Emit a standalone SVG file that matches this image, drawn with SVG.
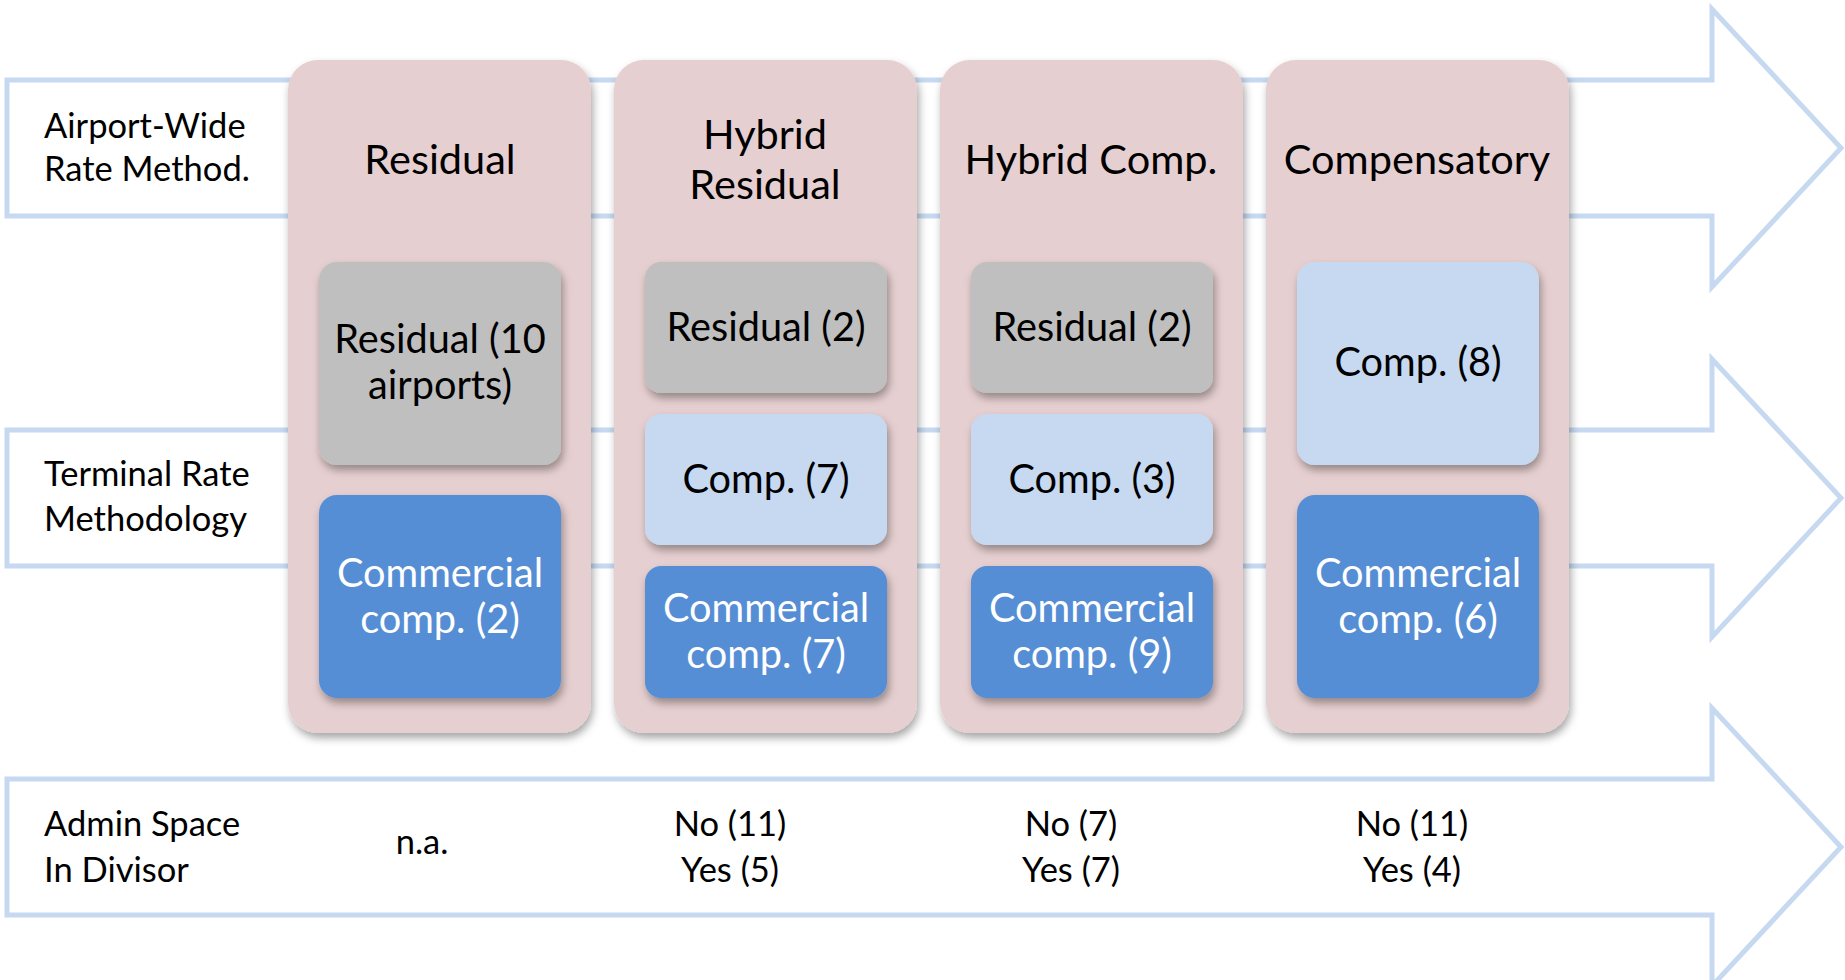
<svg xmlns="http://www.w3.org/2000/svg" width="1845" height="980" viewBox="0 0 1845 980">
<defs>
<filter id="sh" x="-10%" y="-10%" width="125%" height="125%">
<feDropShadow dx="2" dy="5" stdDeviation="4" flood-color="#000" flood-opacity="0.35"/>
</filter>
<style>
.arrow{fill:#fff;stroke:#C6D9F1;stroke-width:5}
.col{fill:#E6CFD0;filter:url(#sh)}
.gray{fill:#BFBFBF;filter:url(#sh)}
.lb{fill:#C6D9F1;filter:url(#sh)}
.db{fill:#558ED5;filter:url(#sh)}
text{font-family:Lato,"Open Sans","Liberation Sans",sans-serif;fill:#000}
.lab{font-size:34.5px}
.hd{font-size:41.5px;text-anchor:middle}
.bx{font-size:39.7px;text-anchor:middle}
.wt{fill:#fff}
.ad{font-size:34.5px;text-anchor:middle}
</style>
</defs>
<g id="connectors">
<path class="arrow" d="M7,80 H1712 V9 L1841,148 L1712,287 V216 H7 Z"/>
<path class="arrow" d="M7,430 H1712 V359 L1841,498 L1712,637 V566 H7 Z"/>
<path class="arrow" d="M7,779 H1712 V708 L1841,847 L1712,986 V915 H7 Z"/>
</g>
<g id="row-labels">
<text class="lab" x="44" y="138">Airport-Wide</text>
<text class="lab" x="44" y="181">Rate Method.</text>
<text class="lab" x="44" y="486">Terminal Rate</text>
<text class="lab" x="44" y="531">Methodology</text>
<text class="lab" x="44" y="836">Admin Space</text>
<text class="lab" x="44" y="882">In Divisor</text>
</g>
<g id="col-residual">
<rect class="col" x="288" y="60" width="303" height="673" rx="30"/>
<text class="hd" x="440" y="174">Residual</text>
<rect class="gray" x="319" y="262" width="242" height="203" rx="18"/>
<text class="bx" x="440" y="353">Residual (10</text>
<text class="bx" x="440" y="399">airports)</text>
<rect class="db" x="319" y="495" width="242" height="203" rx="18"/>
<text class="bx wt" x="440" y="587">Commercial</text>
<text class="bx wt" x="440" y="633">comp. (2)</text>
</g>
<g id="col-hybrid-residual">
<rect class="col" x="614" y="60" width="303" height="673" rx="30"/>
<text class="hd" x="765" y="149">Hybrid</text>
<text class="hd" x="765" y="199">Residual</text>
<rect class="gray" x="645" y="262" width="242" height="131" rx="16"/>
<text class="bx" x="766" y="341">Residual (2)</text>
<rect class="lb" x="645" y="414" width="242" height="131" rx="16"/>
<text class="bx" x="766" y="493">Comp. (7)</text>
<rect class="db" x="645" y="566" width="242" height="132" rx="16"/>
<text class="bx wt" x="766" y="622">Commercial</text>
<text class="bx wt" x="766" y="668">comp. (7)</text>
</g>
<g id="col-hybrid-comp">
<rect class="col" x="940" y="60" width="303" height="673" rx="30"/>
<text class="hd" x="1091" y="174">Hybrid Comp.</text>
<rect class="gray" x="971" y="262" width="242" height="131" rx="16"/>
<text class="bx" x="1092" y="341">Residual (2)</text>
<rect class="lb" x="971" y="414" width="242" height="131" rx="16"/>
<text class="bx" x="1092" y="493">Comp. (3)</text>
<rect class="db" x="971" y="566" width="242" height="132" rx="16"/>
<text class="bx wt" x="1092" y="622">Commercial</text>
<text class="bx wt" x="1092" y="668">comp. (9)</text>
</g>
<g id="col-compensatory">
<rect class="col" x="1266" y="60" width="303" height="673" rx="30"/>
<text class="hd" x="1417" y="174">Compensatory</text>
<rect class="lb" x="1297" y="262" width="242" height="203" rx="18"/>
<text class="bx" x="1418" y="376">Comp. (8)</text>
<rect class="db" x="1297" y="495" width="242" height="203" rx="18"/>
<text class="bx wt" x="1418" y="587">Commercial</text>
<text class="bx wt" x="1418" y="633">comp. (6)</text>
</g>
<g id="admin-values">
<text class="ad" x="422" y="854">n.a.</text>
<text class="ad" x="730" y="836">No (11)</text>
<text class="ad" x="730" y="882">Yes (5)</text>
<text class="ad" x="1071" y="836">No (7)</text>
<text class="ad" x="1071" y="882">Yes (7)</text>
<text class="ad" x="1412" y="836">No (11)</text>
<text class="ad" x="1412" y="882">Yes (4)</text>
</g>
</svg>
